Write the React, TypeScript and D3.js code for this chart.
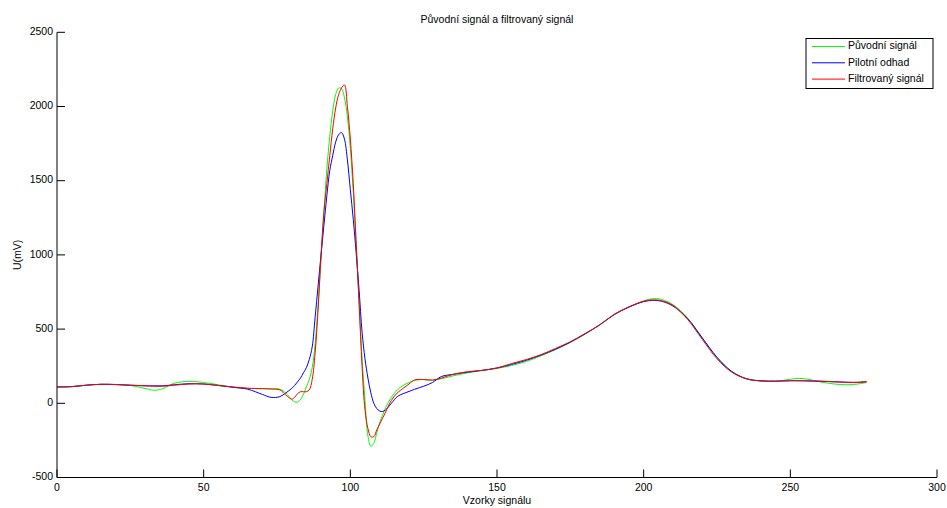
import React from "react";
import * as d3 from "d3";

const samples = [0, 5, 10, 15, 20, 25, 30, 33, 36, 40, 45, 50, 55, 60, 65, 70, 73, 76, 78, 80, 81, 82, 83, 84, 85, 86, 87, 88, 89, 90, 91, 92, 93, 94, 95, 96, 97, 98, 99, 100, 101, 102, 103, 104, 105, 106, 107, 108, 109, 110, 111, 112, 114, 116, 118, 120, 122, 125, 128, 131, 135, 140, 145, 150, 155, 160, 165, 170, 175, 180, 185, 190, 195, 200, 203, 206, 210, 215, 220, 225, 230, 235, 240, 245, 250, 253, 256, 260, 265, 270, 273, 276];

const original = [110, 112, 122, 128, 126, 120, 100, 88, 98, 135, 148, 140, 125, 108, 100, 100, 98, 95, 70, 25, 10, 8, 25, 60, 110, 160, 240, 400, 660, 980, 1290, 1580, 1800, 1970, 2080, 2125, 2120, 2060, 1930, 1720, 1420, 1070, 680, 300, 20, -220, -290, -270, -200, -130, -80, -30, 40, 90, 120, 140, 155, 160, 155, 165, 185, 205, 222, 235, 255, 282, 320, 362, 410, 465, 530, 600, 650, 690, 705, 700, 665, 575, 440, 310, 215, 168, 150, 148, 162, 168, 162, 145, 130, 125, 130, 140];

const pilot = [110, 112, 122, 128, 126, 122, 118, 118, 118, 125, 132, 130, 120, 108, 95, 60, 40, 45, 70, 100, 120, 145, 170, 205, 240, 295, 380, 580, 790, 1000, 1200, 1400, 1570, 1670, 1760, 1810, 1824, 1780, 1640, 1440, 1240, 1010, 760, 480, 300, 170, 70, 0, -35, -52, -55, -45, 0, 45, 65, 80, 95, 115, 140, 180, 195, 210, 222, 238, 262, 290, 325, 365, 412, 468, 528, 598, 648, 685, 693, 688, 655, 570, 440, 310, 215, 165, 152, 150, 152, 152, 150, 148, 145, 142, 142, 148];

const filtered = [110, 113, 122, 128, 127, 122, 118, 115, 115, 122, 130, 130, 120, 110, 102, 98, 96, 90, 56, 28, 40, 65, 78, 78, 78, 90, 160, 340, 630, 990, 1290, 1480, 1670, 1850, 1990, 2080, 2125, 2145, 2000, 1780, 1480, 1072, 664, 250, -45, -170, -225, -225, -180, -140, -100, -60, 20, 70, 101, 130, 158, 160, 157, 170, 195, 213, 222, 238, 268, 295, 328, 370, 415, 470, 528, 600, 650, 688, 697, 692, 660, 565, 430, 300, 210, 165, 150, 148, 152, 152, 152, 150, 145, 140, 140, 142];

const xTicks = [0, 50, 100, 150, 200, 250, 300];
const yTicks = [-500, 0, 500, 1000, 1500, 2000, 2500];
const seriesNames = ["Původní signál", "Pilotní odhad", "Filtrovaný signál"];
const seriesColors = ["#00ff00", "#0000ff", "#ff0000"];

const W = 947;
const H = 508;
const FONT = "'Liberation Sans', Arial, sans-serif";

export default function App() {
  const x = d3.scaleLinear().domain([0, 300]).range([57, 937]);
  const y = d3.scaleLinear().domain([-500, 2500]).range([477.5, 32.3]);
  const line = d3
    .line<[number, number]>()
    .x((d) => x(d[0]))
    .y((d) => y(d[1]))
    .curve(d3.curveCatmullRom.alpha(0.5));
  const series = [original, pilot, filtered].map((vals) =>
    samples.map((s, i) => [s, vals[i]] as [number, number])
  );

  return (
    <svg
      width={W}
      height={H}
      style={{ position: "absolute", left: 0, top: 0, background: "#fff" }}
      fontFamily={FONT}
    >
      <rect x={0} y={0} width={W} height={H} fill="#fff" />
      {series.map((pts, i) => (
        <path
          key={i}
          d={line(pts) || ""}
          fill="none"
          stroke={seriesColors[i]}
          strokeWidth={1}
        />
      ))}
      {/* axes */}
      <line x1={57} x2={57} y1={y(2500)} y2={y(-500)} stroke="#000" strokeWidth={1} />
      <line x1={57} x2={937} y1={y(-500)} y2={y(-500)} stroke="#000" strokeWidth={1} />
      {yTicks.map((t) => (
        <g key={"y" + t}>
          <line x1={57} x2={65} y1={y(t)} y2={y(t)} stroke="#000" />
          <text
            x={53}
            y={y(t)}
            textAnchor="end"
            dominantBaseline="middle"
            fontSize={10.5}
            fill="#000"
          >
            {t}
          </text>
        </g>
      ))}
      {xTicks.map((t) => (
        <g key={"x" + t}>
          <line x1={x(t)} x2={x(t)} y1={y(-500)} y2={y(-500) - 8} stroke="#000" />
          <text
            x={x(t)}
            y={y(-500) + 13}
            textAnchor="middle"
            fontSize={10.5}
            fill="#000"
          >
            {t}
          </text>
        </g>
      ))}
      <text x={497} y={23} textAnchor="middle" fontSize={10.5} fill="#000">
        Původní signál a filtrovaný signál
      </text>
      <text x={497} y={504} textAnchor="middle" fontSize={10.5} fill="#000">
        Vzorky signálu
      </text>
      <text
        transform={`translate(21,${(y(2500) + y(-500)) / 2}) rotate(-90)`}
        textAnchor="middle"
        fontSize={10.5}
        fill="#000"
      >
        U(mV)
      </text>
      {/* legend */}
      <rect x={806} y={38.5} width={127} height={50} fill="#fff" stroke="#000" strokeWidth={1} />
      {seriesNames.map((n, i) => (
        <g key={n}>
          <line
            x1={812}
            x2={845}
            y1={46.5 + i * 16.3}
            y2={46.5 + i * 16.3}
            stroke={seriesColors[i]}
            strokeWidth={1}
          />
          <text
            x={848}
            y={46.5 + i * 16.3}
            dominantBaseline="middle"
            fontSize={10.5}
            fill="#000"
          >
            {n}
          </text>
        </g>
      ))}
    </svg>
  );
}
